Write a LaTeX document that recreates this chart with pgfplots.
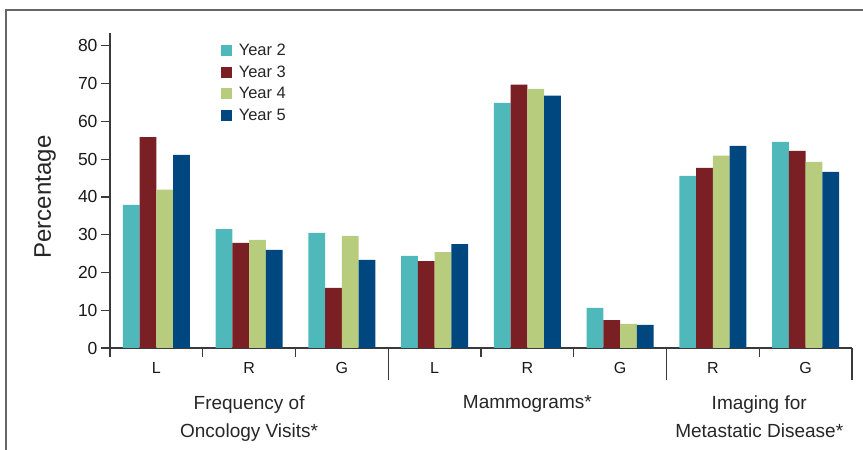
\documentclass[border=0pt]{standalone}
\usepackage{fontspec}
\setmainfont{Liberation Sans}
\usepackage{pgfplots}
\pgfplotsset{compat=1.18}
\definecolor{cA}{HTML}{4FB8BB}
\definecolor{cB}{HTML}{7A2024}
\definecolor{cC}{HTML}{B8CC7E}
\definecolor{cD}{HTML}{00467F}
\definecolor{axcol}{HTML}{3A3A3A}
\begin{document}
\begin{tikzpicture}
\useasboundingbox (0,0) rectangle (863pt,450pt);
\draw[gray!80!black, line width=1.5pt] (6pt,0pt) -- (6pt,440pt) -- (863pt,440pt);
\node[rotate=90, font=\fontsize{24}{28}\selectfont, text=black!85] at (45pt,253pt) {Percentage};
\begin{axis}[
  at={(110pt,102pt)}, anchor=south west, scale only axis,
  width=742pt, height=315pt,
  xmin=-0.5, xmax=7.5, ymin=0, ymax=83.4,
  ybar=0pt, bar width=0.18,
  axis x line*=bottom, axis y line*=left,
  axis line style={line width=1.5pt, axcol},
  every tick/.style={axcol, line width=1.2pt},
  tick align=outside,
  major tick length=9pt,
  minor tick length=32pt,
  ytick={0,10,...,80},
  yticklabel style={font=\fontsize{17.5}{19}\selectfont, text=black!90},
  /pgf/number format/assume math mode=true,
  xtick={-0.5,0.5,1.5,3.5,4.5,6.5},
  xticklabels={},
  minor xtick={2.5,5.5,7.5},
  extra x ticks={0,1,2,3,4,5,6,7},
  extra x tick labels={L,R,G,L,R,G,R,G},
  extra x tick style={major tick length=0pt, tick style={draw=none},
     ticklabel style={font=\fontsize{16}{18}\selectfont, text=black!90, yshift=-11pt}},
  clip=false,
  legend style={at={(0.145,0.98)}, anchor=north west, draw=none, fill=none,
     font=\fontsize{16.5}{18}\selectfont, text=black!85, row sep=5pt,
     legend cell align=left},
  legend image code/.code={\fill[#1,draw=none] (0pt,-5.5pt) rectangle (11pt,5.5pt); \path (16pt,0pt);},
]
\addplot[fill=cA, draw=none] coordinates {(0,37.9) (1,31.5) (2,30.5) (3,24.4) (4,64.9) (5,10.6) (6,45.6) (7,54.6)};
\addplot[fill=cB, draw=none] coordinates {(0,55.8) (1,27.8) (2,15.9) (3,23.0) (4,69.7) (5,7.4) (6,47.7) (7,52.2)};
\addplot[fill=cC, draw=none] coordinates {(0,41.9) (1,28.6) (2,29.7) (3,25.4) (4,68.6) (5,6.4) (6,50.9) (7,49.3)};
\addplot[fill=cD, draw=none] coordinates {(0,51.1) (1,26.0) (2,23.3) (3,27.5) (4,66.8) (5,6.1) (6,53.5) (7,46.6)};
\legend{Year 2,Year 3,Year 4,Year 5}
\node[anchor=north, align=center, font=\fontsize{19}{28}\selectfont, text=black!85] at (axis cs:1,0) [yshift=-44pt] {Frequency of\\Oncology Visits*};
\node[anchor=north, align=center, font=\fontsize{19}{28}\selectfont, text=black!85] at (axis cs:4,0) [yshift=-44pt] {Mammograms*};
\node[anchor=north, align=center, font=\fontsize{19}{28}\selectfont, text=black!85] at (axis cs:6.5,0) [yshift=-44pt] {Imaging for\\Metastatic Disease*};
\end{axis}
\end{tikzpicture}
\end{document}
